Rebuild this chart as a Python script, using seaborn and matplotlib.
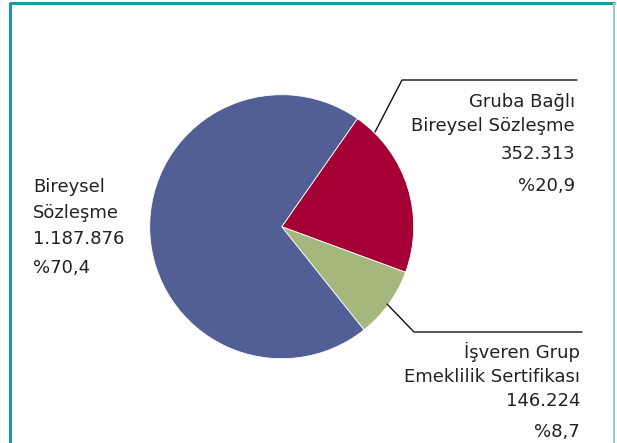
import numpy as np
import pandas as pd
import matplotlib
matplotlib.use('Agg')
from matplotlib import pyplot as plt
import seaborn as sns

# data
categories = ['Gruba Bağlı\nBireysel Sözleşme', 'İşveren Grup\nEmeklilik Sertifikası', 'Bireysel\nSözleşme']
counts = [352313, 146224, 1187876]
count_labels = ['352.313', '146.224', '1.187.876']
pct_labels = ['%20,9', '%8,7', '%70,4']
colors = ['#A40035', '#A4B77C', '#515F95']

sns.set_theme(style='white')
plt.rcParams['font.family'] = ['DejaVu Sans']

W, H = 617, 443
fig = plt.figure(figsize=(W / 100, H / 100), dpi=100)
ax = fig.add_axes([0, 0, 1, 1])

# pixel-like coordinates, y measured from the bottom
ax.pie(counts, colors=colors, startangle=55, counterclock=False,
       center=(281.7, H - 226.7), radius=132,
       wedgeprops=dict(linewidth=0.6, edgecolor='white'))
ax.set_xlim(0, W)
ax.set_ylim(0, H)
ax.set_aspect('equal')
ax.axis('off')

# frame
teal = '#1C9AA0'
ax.plot([10, 10], [0, H - 3], color=teal, lw=2.2, solid_capstyle='butt')
ax.plot([9, 615], [H - 3, H - 3], color=teal, lw=2.2, solid_capstyle='butt')
ax.plot([614, 614], [0, H - 3], color='#8FCFD0', lw=1.5, solid_capstyle='butt')

# leader lines
ax.plot([375, 402, 577], [H - 132, H - 80, H - 80], color='#111111', lw=1)
ax.plot([387, 414, 582], [H - 304, H - 332, H - 332], color='#111111', lw=1)

txt = dict(color='#222222', fontsize=13, va='center')

# Gruba Bağlı
name0 = categories[0].split('\n')
ax.text(575, H - 102, name0[0], ha='right', **txt)
ax.text(575, H - 126, name0[1], ha='right', **txt)
ax.text(575, H - 154, count_labels[0], ha='right', **txt)
ax.text(575, H - 186, pct_labels[0], ha='right', **txt)

# İşveren Grup
name1 = categories[1].split('\n')
ax.text(580, H - 352, name1[0], ha='right', **txt)
ax.text(580, H - 377, name1[1], ha='right', **txt)
ax.text(580, H - 401, count_labels[1], ha='right', **txt)
ax.text(580, H - 432, pct_labels[1], ha='right', **txt)

# Bireysel
name2 = categories[2].split('\n')
ax.text(33, H - 187, name2[0], ha='left', **txt)
ax.text(33, H - 213, name2[1], ha='left', **txt)
ax.text(33, H - 239, count_labels[2], ha='left', **txt)
ax.text(33, H - 268, pct_labels[2], ha='left', **txt)

plt.savefig('out.png', dpi=100)
